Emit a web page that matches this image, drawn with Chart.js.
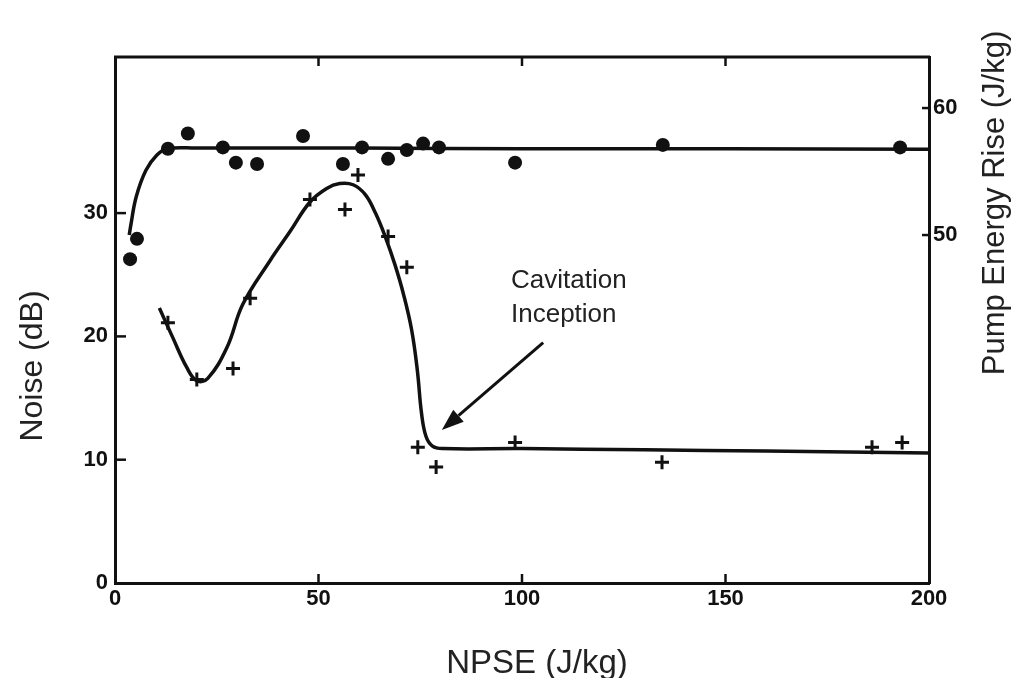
<!DOCTYPE html>
<html>
<head>
<meta charset="utf-8">
<script src="https://cdn.jsdelivr.net/npm/chart.js@4.4.1/dist/chart.umd.min.js"></script>
<style>
  html, body { margin: 0; padding: 0; background: #ffffff; }
  #wrap { width: 1022px; height: 678px; }
</style>
</head>
<body>
<div id="wrap"><canvas id="c" width="1022" height="678"></canvas></div>
<script>
// ---- Data ----
const xTicks = [0, 50, 100, 150, 200];
const yTicks = [0, 10, 20, 30];
const y2Ticks = [50, 60];

// Pump energy rise (J/kg), filled circles, right axis
const energyX = [3.7, 5.4, 13.0, 17.9, 26.5, 29.7, 34.9, 46.2, 56.0, 60.7, 67.1, 71.7, 75.7, 79.6, 98.3, 134.6, 192.9];
const energyY = [48.1, 49.7, 56.8, 58.0, 56.9, 55.7, 55.6, 57.8, 55.6, 56.9, 56.0, 56.7, 57.2, 56.9, 55.7, 57.1, 56.9];

// Noise (dB), crosses, left axis
const noiseX = [13.0, 20.1, 29.0, 33.2, 47.9, 56.5, 59.7, 67.1, 71.7, 74.4, 78.9, 98.3, 134.4, 186.0, 193.4];
const noiseY = [21.1, 16.5, 17.4, 23.1, 31.1, 30.3, 33.1, 28.1, 25.6, 11.0, 9.4, 11.4, 9.8, 11.0, 11.4];

// Hand-drawn fitted curves
const energyFitX = [3.5, 3.9, 5.2, 7.6, 10.3, 12.8, 20, 60, 100, 150, 200];
const energyFitY = [50.0, 50.8, 53.0, 55.1, 56.3, 56.8, 56.85, 56.85, 56.8, 56.8, 56.75];

const noiseFitX = [10.9, 14.2, 17.6, 20.1, 22.8, 27.5, 31.4, 38.0, 43.0, 47.9, 52.0, 55.2, 58.5, 61.5, 64.0, 66.5, 68.8, 70.9, 72.9, 74.3, 75.3, 76.4, 78.0, 80.5, 100, 130, 160, 200];
const noiseFitY = [22.3, 19.9, 17.5, 16.4, 16.6, 19.1, 22.6, 26.1, 28.5, 30.9, 32.0, 32.4, 32.3, 31.5, 30.0, 28.0, 25.8, 23.4, 20.5, 17.2, 13.8, 11.9, 11.1, 10.9, 10.9, 10.8, 10.7, 10.55];

// Annotation (data coordinates)
const annoText = ['Cavitation', 'Inception'];
const annoTextPos = { x: 97.3, y: 23.9 };
const annoArrowFrom = { x: 105.2, y: 19.5 };
const annoArrowTo = { x: 80.3, y: 12.4 };

const xTitle = 'NPSE (J/kg)';
const yTitle = 'Noise (dB)';
const y2Title = 'Pump Energy Rise (J/kg)';

const toPts = (xs, ys) => xs.map((x, i) => ({ x: x, y: ys[i] }));

const INK = '#111111';
const FONT = "'Liberation Sans', Arial, Helvetica, sans-serif";

const decor = {
  id: 'decor',
  afterDraw(chart) {
    const ctx = chart.ctx;
    const a = chart.chartArea;
    const xs = chart.scales.x, ys = chart.scales.y, y2s = chart.scales.y2;
    ctx.save();
    ctx.strokeStyle = INK;
    ctx.lineCap = 'butt';
    // top frame line
    ctx.lineWidth = 3;
    ctx.beginPath();
    ctx.moveTo(a.left - 1, a.top);
    ctx.lineTo(a.right + 1, a.top);
    ctx.stroke();
    // inward tick marks
    ctx.lineWidth = 2.5;
    [50, 100, 150].forEach(v => {
      const px = xs.getPixelForValue(v);
      ctx.beginPath(); ctx.moveTo(px, a.bottom); ctx.lineTo(px, a.bottom - 9); ctx.stroke();
      ctx.beginPath(); ctx.moveTo(px, a.top); ctx.lineTo(px, a.top + 9); ctx.stroke();
    });
    [10, 20, 30].forEach(v => {
      const py = ys.getPixelForValue(v);
      ctx.beginPath(); ctx.moveTo(a.left, py); ctx.lineTo(a.left + 11, py); ctx.stroke();
    });
    y2Ticks.forEach(v => {
      const py = y2s.getPixelForValue(v);
      ctx.beginPath(); ctx.moveTo(a.right, py); ctx.lineTo(a.right - 7, py); ctx.stroke();
    });

    // axis titles
    ctx.fillStyle = '#222222';
    ctx.textAlign = 'center';
    ctx.textBaseline = 'alphabetic';
    ctx.font = '33px ' + FONT;
    ctx.fillText(xTitle, 537, 673);

    ctx.save();
    ctx.translate(42, 366);
    ctx.rotate(-Math.PI / 2);
    ctx.font = '32px ' + FONT;
    ctx.fillText(yTitle, 0, 0);
    ctx.restore();

    ctx.save();
    ctx.translate(1004, 203);
    ctx.rotate(-Math.PI / 2);
    ctx.font = '31px ' + FONT;
    ctx.fillText(y2Title, 0, 0);
    ctx.restore();

    // annotation text
    ctx.textAlign = 'left';
    ctx.font = '26px ' + FONT;
    const tx = xs.getPixelForValue(annoTextPos.x);
    const ty = ys.getPixelForValue(annoTextPos.y);
    ctx.fillText(annoText[0], tx, ty);
    ctx.fillText(annoText[1], tx, ty + 34);

    // arrow
    const x0 = xs.getPixelForValue(annoArrowFrom.x), y0 = ys.getPixelForValue(annoArrowFrom.y);
    const x1 = xs.getPixelForValue(annoArrowTo.x), y1 = ys.getPixelForValue(annoArrowTo.y);
    const ang = Math.atan2(y1 - y0, x1 - x0);
    const hl = 22, hw = 8;
    const bx = x1 - hl * Math.cos(ang), by = y1 - hl * Math.sin(ang);
    ctx.strokeStyle = INK;
    ctx.lineWidth = 3;
    ctx.beginPath(); ctx.moveTo(x0, y0); ctx.lineTo(bx, by); ctx.stroke();
    ctx.fillStyle = INK;
    ctx.beginPath();
    ctx.moveTo(x1, y1);
    ctx.lineTo(bx + hw * Math.sin(ang), by - hw * Math.cos(ang));
    ctx.lineTo(bx - hw * Math.sin(ang), by + hw * Math.cos(ang));
    ctx.closePath();
    ctx.fill();
    ctx.restore();
  }
};

const tickFont = { family: FONT, size: 22, weight: 'bold' };

new Chart(document.getElementById('c'), {
  type: 'scatter',
  data: {
    datasets: [
      {
        label: 'Energy fit', data: toPts(energyFitX, energyFitY), yAxisID: 'y2',
        showLine: true, pointRadius: 0, borderColor: INK, borderWidth: 3.5,
        tension: 0.4, fill: false
      },
      {
        label: 'Noise fit', data: toPts(noiseFitX, noiseFitY), yAxisID: 'y',
        showLine: true, pointRadius: 0, borderColor: INK, borderWidth: 3.5,
        tension: 0.4, fill: false
      },
      {
        label: 'Pump energy rise', data: toPts(energyX, energyY), yAxisID: 'y2',
        pointStyle: 'circle', pointRadius: 7, backgroundColor: INK, borderColor: INK, borderWidth: 0
      },
      {
        label: 'Noise', data: toPts(noiseX, noiseY), yAxisID: 'y',
        pointStyle: 'cross', pointRadius: 7, borderColor: INK, borderWidth: 3
      }
    ]
  },
  options: {
    responsive: false,
    animation: false,
    layout: { padding: { top: 57, left: 0, right: 0, bottom: 0 } },
    plugins: { legend: { display: false }, tooltip: { enabled: false } },
    scales: {
      x: {
        type: 'linear', position: 'bottom', min: 0, max: 200,
        afterBuildTicks: s => { s.ticks = xTicks.map(v => ({ value: v })); },
        afterFit: s => { s.height = 95; },
        grid: { display: false, drawTicks: false },
        border: { display: true, color: INK, width: 3 },
        ticks: { color: INK, font: tickFont, padding: 3, maxRotation: 0, autoSkip: false },
        title: { display: false }
      },
      y: {
        type: 'linear', position: 'left', min: 0, max: 42.66,
        afterBuildTicks: s => { s.ticks = yTicks.map(v => ({ value: v })); },
        afterFit: s => { s.width = 115; },
        grid: { display: false, drawTicks: false },
        border: { display: true, color: INK, width: 3 },
        ticks: { color: INK, font: tickFont, padding: 7, autoSkip: false },
        title: { display: false }
      },
      y2: {
        type: 'linear', position: 'right', min: 22.6, max: 64.02,
        afterBuildTicks: s => { s.ticks = y2Ticks.map(v => ({ value: v })); },
        afterFit: s => { s.width = 93; },
        grid: { display: false, drawTicks: false },
        border: { display: true, color: INK, width: 3 },
        ticks: { color: INK, font: tickFont, padding: 4, autoSkip: false },
        title: { display: false }
      }
    }
  },
  plugins: [decor]
});
</script>
</body>
</html>
